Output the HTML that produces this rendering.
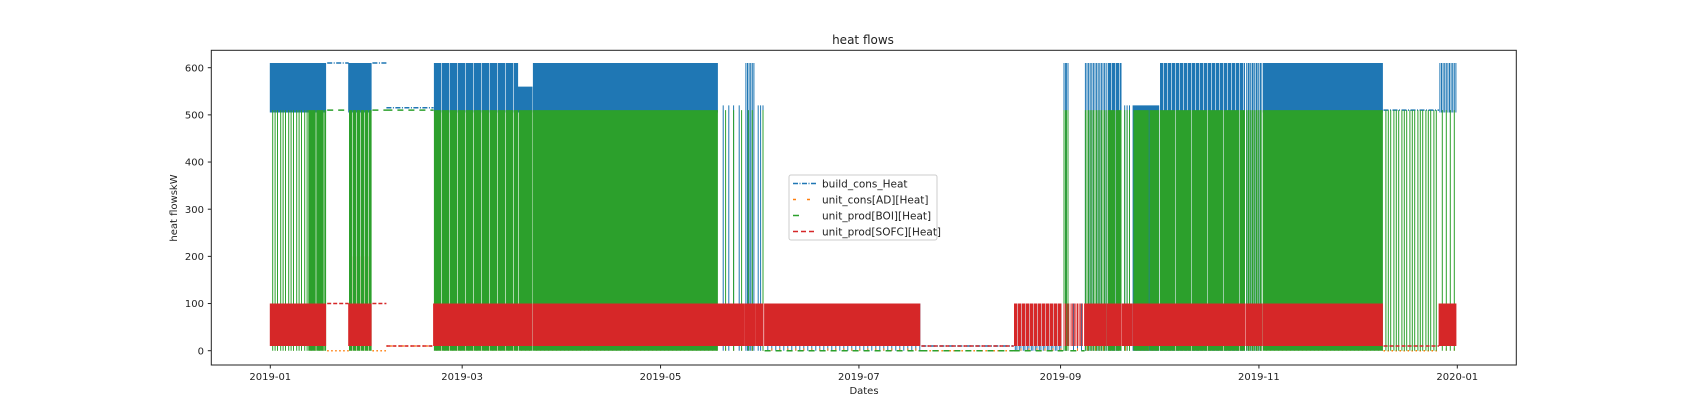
<!DOCTYPE html>
<html><head><meta charset="utf-8"><title>heat flows</title>
<style>
html,body{margin:0;padding:0;background:#fff;}
svg{display:block;font-family:"DejaVu Sans","Liberation Sans",sans-serif;}
</style></head>
<body>
<svg id="chart" width="1684" height="417" viewBox="0 0 1684 417" xmlns="http://www.w3.org/2000/svg">
<rect width="1684" height="417" fill="#fff"/>
<text x="863" y="44" font-size="12" text-anchor="middle" fill="#222">heat flows</text>
<g id="plot"></g>
<g id="yticks"></g>
<g id="xticks"></g>
<rect x="211.3" y="50.3" width="1305" height="314.7" fill="none" stroke="#222" stroke-width="1"/>
<text x="864" y="394" font-size="10" text-anchor="middle" fill="#222">Dates</text>
<text transform="translate(177,208) rotate(-90)" font-size="10" text-anchor="middle" fill="#222">heat flowskW</text>
<g>
<rect x="789" y="175" width="148" height="65" rx="2" fill="#fff" fill-opacity="0.8" stroke="#ccc"/>
<g>
<line x1="793" y1="183.5" x2="816" y2="183.5" stroke="#1f77b4" stroke-width="1.5" stroke-dasharray="5,1.5,1,1.5"/>
<text x="822" y="187.5" font-size="10.5" fill="#222">build_cons_Heat</text></g>
<g>
<line x1="793" y1="199.5" x2="816" y2="199.5" stroke="#ff7f0e" stroke-width="1.5" stroke-dasharray="3,11,3,20"/>
<text x="822" y="203.5" font-size="10.5" fill="#222">unit_cons[AD][Heat]</text></g>
<g>
<line x1="793" y1="215.5" x2="816" y2="215.5" stroke="#2ca02c" stroke-width="1.5" stroke-dasharray="6,30"/>
<text x="822" y="219.5" font-size="10.5" fill="#222">unit_prod[BOI][Heat]</text></g>
<g>
<line x1="793" y1="231.5" x2="816" y2="231.5" stroke="#d62728" stroke-width="1.5" stroke-dasharray="5,3"/>
<text x="822" y="235.5" font-size="10.5" fill="#222">unit_prod[SOFC][Heat]</text></g>
</g>
</svg>
<script>
// periods in days since 2019-01-01
const periodStart = [0,11.6,17.5,24.1,31.4,35.7,50.2,76.3,80.9,137.8,146,149.3,152,200.2,228.6,243.8,246,250.4,257.4,262,265.3,273.5,300,305.3,342.3,359.4];
const periodEnd   = [11.6,17.5,24.1,31.4,35.7,50.2,76.3,80.9,137.8,146,149.3,152,200.2,228.6,243.8,246,250.4,257.4,262,265.3,273.5,300,305.3,342.3,359.4,365];
// build_cons_Heat (kW) low/high per period, and fill density
const blueLow  = [505,505,610,505,610,515,505,505,505,0,0,0,0,10,0,0,0,0,0,0,0,0,0,505,510,505];
const blueHigh = [610,610,610,610,610,515,610,560,610,520,610,520,100,10,100,610,100,610,610,520,520,610,610,610,510,610];
const blueDen  = [1,1,1,1,1,1,0.9,1,1,0.15,0.5,0.3,0.2,1,0.4,0.6,0.2,0.5,0.8,0.3,1,0.8,0.6,1,1,0.5];
// unit_cons[AD][Heat]
const orangeLow  = [0,0,0,0,0,10,0,0,0,0,0,0,0,0,0,0,0,0,0,0,0,0,0,0,0,0];
const orangeHigh = [150,10,0,200,0,10,10,10,10,5,5,5,5,0,5,10,5,10,10,10,10,10,10,10,0,5];
const orangeDen  = [0.1,0.2,1,0.2,1,1,0.2,0.2,0.2,0.1,0.1,0.1,0.1,1,0.1,0.2,0.1,0.2,0.2,0.2,0.2,0.2,0.2,0.2,1,0.1];
// unit_prod[BOI][Heat]
const greenLow  = [0,0,510,0,510,510,0,0,0,0,0,0,0,0,0,0,0,0,0,0,0,0,0,0,0,0];
const greenHigh = [510,510,510,510,510,510,510,510,510,510,510,510,0,0,0,510,0,510,510,510,510,510,510,510,510,510];
const greenDen  = [0.3,0.9,1,0.8,1,1,0.9,0.95,1,0.1,0.2,0.1,0,0,0,0.6,0,0.5,0.9,0.3,0.95,0.95,0.6,1,0.3,0.2];
// unit_prod[SOFC][Heat]
const redLow  = [10,10,100,10,100,10,10,10,10,10,10,10,10,10,10,10,10,10,10,10,10,10,10,10,10,10];
const redHigh = [100,100,100,100,100,10,100,100,100,100,100,100,100,10,100,100,100,100,100,100,100,100,100,100,10,100];
const redDen  = [1,1,1,1,1,1,1,1,1,1,1,1,1,1,0.8,0.5,0.5,1,1,1,1,1,1,1,1,1];

const yTicks = [0,100,200,300,400,500,600];
const xTickDays = [0,59,120,181,243,304,365];
const xTickLabels = ['2019-01','2019-03','2019-05','2019-07','2019-09','2019-11','2020-01'];

const NS='http://www.w3.org/2000/svg';
const X = d => 270.3 + d*(1457.3-270.3)/365;
const Y = v => 350.7 - v*(350.7-67.7)/600;

const plot=document.getElementById('plot');
function series(name,color,dash,lo,hi,den){
  let d='', flat='';
  for(let p=0;p<periodStart.length;p++){
    const x0=X(periodStart[p]), x1=X(periodEnd[p]);
    if(lo[p]===hi[p]){ flat+=`M${x0.toFixed(1)},${Y(lo[p]).toFixed(1)}H${x1.toFixed(1)}`; continue; }
    if(den[p]<=0) continue;
    const step=0.8, n=Math.floor((x1-x0)/step);
    for(let i=0;i<n;i++){
      if(Math.floor((i+1)*den[p])>Math.floor(i*den[p])){
        const x=(x0+i*step).toFixed(1);
        d+=`M${x},${Y(lo[p]).toFixed(1)}V${Y(hi[p]).toFixed(1)}`;
      }
    }
  }
  const g=document.createElementNS(NS,'g');
  
  
  const a=document.createElementNS(NS,'path');
  a.setAttribute('d',d);a.setAttribute('stroke',color);a.setAttribute('stroke-width','1');a.setAttribute('fill','none');
  
  
  const b=document.createElementNS(NS,'path');
  b.setAttribute('d',flat);b.setAttribute('stroke',color);b.setAttribute('stroke-width','1.5');b.setAttribute('fill','none');b.setAttribute('stroke-dasharray',dash);
  
  
  g.appendChild(a);g.appendChild(b);plot.appendChild(g);
}
series('build-cons-heat-series','#1f77b4','5,1.5,1,1.5',blueLow,blueHigh,blueDen);
series('unit-cons-ad-series','#ff7f0e','1.5,2.5',orangeLow,orangeHigh,orangeDen);
series('unit-prod-boi-series','#2ca02c','6,5',greenLow,greenHigh,greenDen);
series('unit-prod-sofc-series','#d62728','4,2',redLow,redHigh,redDen);

const yg=document.getElementById('yticks');
yTicks.forEach(v=>{
  const t=document.createElementNS(NS,'g');
  
  
  t.innerHTML=`<line x1="207.8" x2="211.3" y1="${Y(v)}" y2="${Y(v)}" stroke="#222"/><text x="204" y="${Y(v)+3.6}" font-size="10" fill="#222" text-anchor="end">${v}</text>`;
  yg.appendChild(t);
});
const xg=document.getElementById('xticks');
xTickDays.forEach((d,i)=>{
  const t=document.createElementNS(NS,'g');
  
  
  t.innerHTML=`<line x1="${X(d)}" x2="${X(d)}" y1="365" y2="368.5" stroke="#222"/><text x="${X(d)}" y="380" font-size="10" fill="#222" text-anchor="middle">${xTickLabels[i]}</text>`;
  xg.appendChild(t);
});
</script>
</body></html>
